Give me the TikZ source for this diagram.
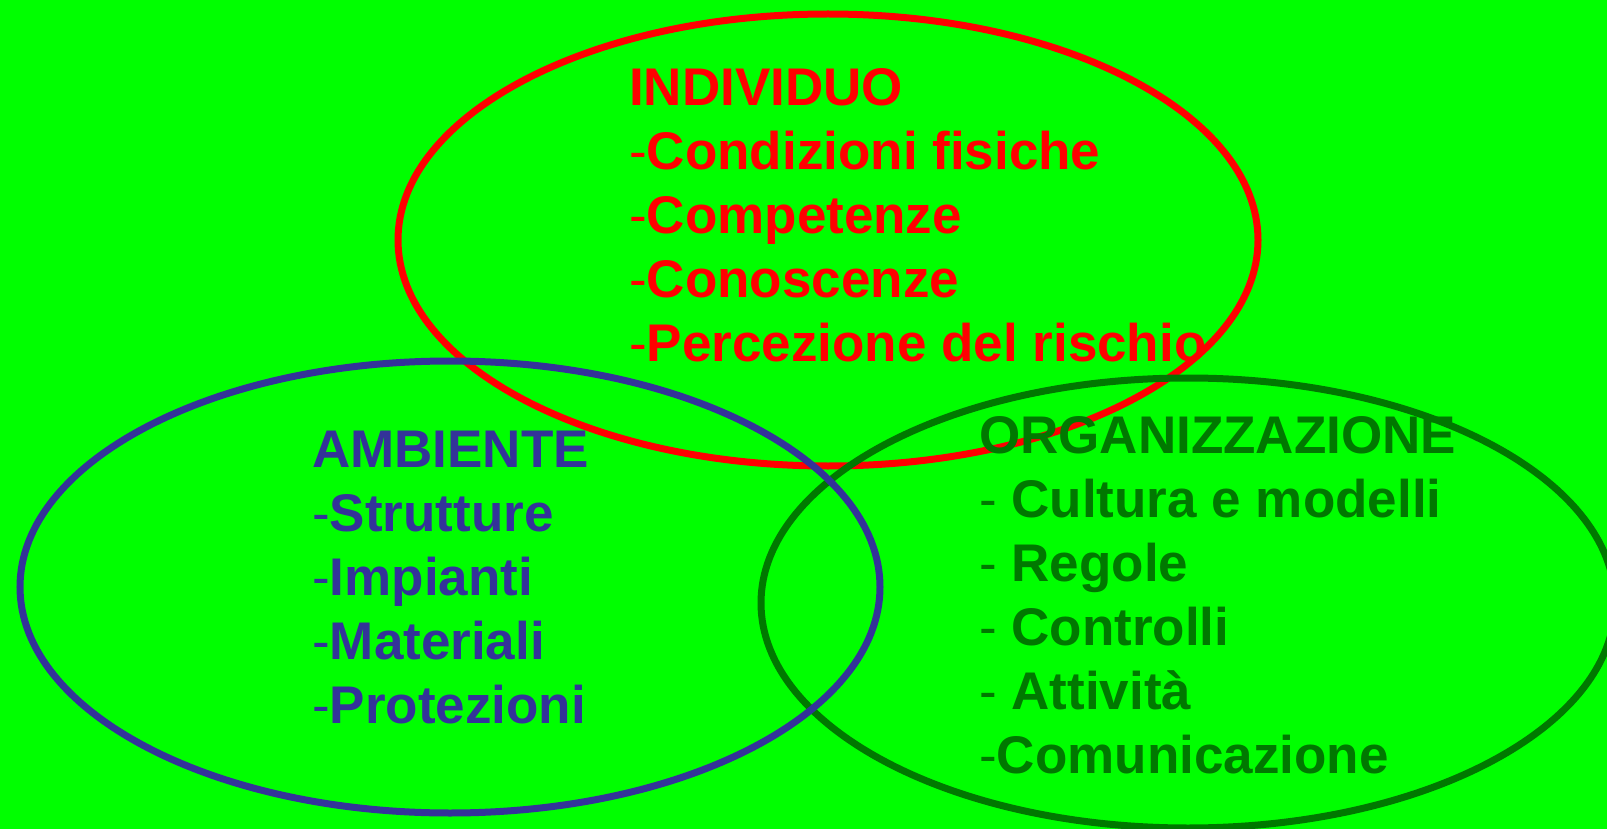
\documentclass[tikz,border=0pt]{standalone}
\usepackage{fontspec}
\setmainfont{Liberation Sans}
\usepackage{xcolor}
\usepackage{tikz}
\usetikzlibrary{%
    shapes.geometric,
    positioning
}
\definecolor{bggreen}{RGB}{0,255,0}
\definecolor{ambblue}{RGB}{51,51,153}
\definecolor{orggreen}{RGB}{0,120,0}
\newcommand{\trat}{\textmd{-}}

\begin{document}
\begin{tikzpicture}[x=1pt,y=-1pt]
  \def\lw{7pt}
  \def\ew{860pt}
  \def\eh{452pt}
  \def\fs{\bfseries\fontsize{53}{64}\selectfont}

  \fill[bggreen] (0,0) rectangle (1607,829);
  \useasboundingbox (0,0) rectangle (1607,829);

  % ellissi (base = ultima riga)
  \node[ ellipse, draw=red, line width=\lw, inner sep=0
       , minimum width=\ew, minimum height=\eh ] (ind) at (828,240) {};
  \node[ anchor=base west, align=left, inner sep=0
       , text=red, font=\fs ] (indtxt) at (629,361)
  {%
    INDIVIDUO\\
    \trat Condizioni fisiche\\
    \trat Competenze\\
    \trat Conoscenze\\
    \trat Percezione del rischio
  };

  \node[ ellipse, draw=orggreen, line width=\lw, inner sep=0
       , minimum width=854pt, minimum height=450pt ] (org) at (1188,603) {};
  \node[ anchor=base west, align=left, inner sep=0
       , text=orggreen, font=\fs ] (orgtxt) at (979,773)
  {%
    ORGANIZZAZIONE\\
    \trat{} Cultura e modelli\\
    \trat{} Regole\\
    \trat{} Controlli\\
    \trat{} Attività\\
    \trat Comunicazione
  };

  \node[ ellipse, draw=ambblue, line width=\lw, inner sep=0
       , minimum width=\ew, minimum height=\eh ] (amb) at (450,587) {};
  \node[ anchor=base west, align=left, inner sep=0
       , text=ambblue, font=\fs ] (ambtxt) at (312,723)
  {%
    AMBIENTE\\
    \trat Strutture\\
    \trat Impianti\\
    \trat Materiali\\
    \trat Protezioni
  };
\end{tikzpicture}
\end{document}
